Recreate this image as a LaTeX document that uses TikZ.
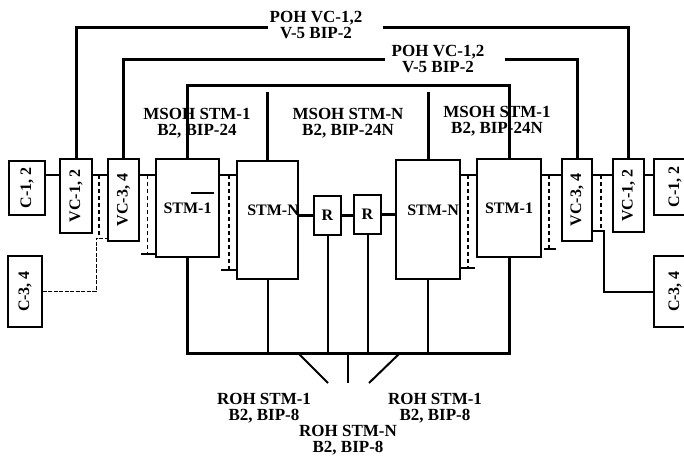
\documentclass[tikz,border=0pt]{standalone}
\usepackage{fontspec}
\setmainfont{Liberation Serif}
\usepackage{graphicx}
\usetikzlibrary{calc}
\begin{document}
\begin{tikzpicture}[x=1pt,y=-1pt,
  txt/.style={font=\fontsize{17}{16.5}\selectfont\bfseries, align=center, inner sep=0pt},
  boxtxt/.style={font=\fontsize{16}{16.5}\selectfont\bfseries, inner sep=0pt},
  box/.style={draw, line width=1.4pt, inner sep=0pt, font=\fontsize{16}{16.5}\selectfont\bfseries},
  thickline/.style={line width=3pt},
  link/.style={line width=2.5pt},
  riser/.style={line width=2pt},
  foot/.style={line width=1.2pt},
  dashv/.style={line width=1.5pt, dash pattern=on 4pt off 3pt},
  thinconn/.style={line width=0.9pt, dash pattern=on 4pt off 1.5pt}]
\clip (0,0) rectangle (684,457);
% boxes
\node[box,minimum width=36pt,minimum height=54pt] (c12L) at (27,188) {\rotatebox{90}{C-1, 2}};
\node[box,minimum width=32pt,minimum height=74pt] (vc12L) at (76,196) {\rotatebox{90}{VC-1, 2}};
\node[box,minimum width=31pt,minimum height=82pt] (vc34L) at (123.5,200) {\rotatebox{90}{VC-3, 4}};
\node[box,minimum width=63pt,minimum height=98pt] (stm1L) at (187.5,208) {STM-1};
\node[box,minimum width=61pt,minimum height=118pt] (stmNL) at (267.5,220) {};
\node[boxtxt,anchor=east] (tNL) at (299,210) {STM-N};
\node[box,minimum width=27pt,minimum height=39pt] (r1) at (327.5,215.5) {R};
\node[box,minimum width=27pt,minimum height=39pt] (r2) at (367.5,214.5) {R};
\node[box,minimum width=64pt,minimum height=119pt] (stmNR) at (428,219.5) {};
\node[boxtxt,anchor=east] (tNR) at (459,210) {STM-N};
\node[box,minimum width=64pt,minimum height=98pt] (stm1R) at (509,208) {STM-1};
\node[box,minimum width=30pt,minimum height=82pt] (vc34R) at (577,200) {\rotatebox{90}{VC-3, 4}};
\node[box,minimum width=31pt,minimum height=73pt] (vc12R) at (628.5,195.5) {\rotatebox{90}{VC-1, 2}};
\node[box,minimum width=42pt,minimum height=56pt] (c12R) at (675,187) {\rotatebox{90}{C-1, 2}};
\node[box,minimum width=34pt,minimum height=71pt] (c34L) at (25,291.5) {\rotatebox{90}{C-3, 4}};
\node[box,minimum width=42pt,minimum height=71pt] (c34R) at (675,291.5) {\rotatebox{90}{C-3, 4}};
% labels
\node[txt] (poh1) at (316,25) {POH VC-1,2\\V-5 BIP-2};
\node[txt] (poh2) at (438,59) {POH VC-1,2\\V-5 BIP-2};
\node[txt] (ms1) at (197,123) {MSOH STM-1\\B2, BIP-24};
\node[txt] (msN) at (348,123) {MSOH STM-N\\B2, BIP-24N};
\node[txt] (ms2) at (497,121) {MSOH STM-1\\B2, BIP-24N};
\node[txt] (roh1) at (264,408) {ROH STM-1\\B2, BIP-8};
\node[txt] (roh2) at (435,408) {ROH STM-1\\B2, BIP-8};
\node[txt] (rohN) at (348,440) {ROH STM-N\\B2, BIP-8};
% overline mark
\draw[line width=1.5pt] ($(stm1L.center)+(3.5,-15)$) -- ++(23,0);
% helper coordinates
\coordinate (row) at (0,175);
\coordinate (yM) at (0,86);
\coordinate (yM2) at (0,92);
\coordinate (yBus) at (0,353);
\coordinate (yC) at (0,238);
\coordinate (yR) at (0,231);
\coordinate (pA1) at (268,28);
\coordinate (pA2) at (383,28);
\coordinate (pB1) at (385,60);
\coordinate (pB2) at (505,60);
% row links
\draw[link] (c12L.east |- row) -- (vc12L.west |- row);
\draw[link] (vc12L.east |- row) -- (vc34L.west |- row);
\draw[link] (vc34L.east |- row) -- (stm1L.west |- row);
\draw[link] (stm1L.east |- row) -- (stmNL.west |- row);
\draw[link] (stmNR.east |- row) -- (stm1R.west |- row);
\draw[link] (stm1R.east |- row) -- (vc34R.west |- row);
\draw[link] (vc34R.east |- row) -- (vc12R.west |- row);
\draw[link] (vc12R.east |- row) -- (c12R.west |- row);
% R chain
\draw[link] (stmNL.east |- r1.west) -- (r1.west);
\draw[link] (r1.east) -- (r2.west |- r1.east);
\draw[link] (r2.east) -- (stmNR.west |- r2.east);
% dashed verticals
\draw[dashv] (99,175) -- (99,238);
\draw[thinconn] (c34L.east) -| (96,238) -- (vc34L.west |- yC);
\draw[dashv] (147.5,175) -- (147.5,254);
\draw[foot] (141,254) -- (156,254);
\draw[dashv] (229,175) -- (229,270);
\draw[foot] (221,270) -- (237,270);
\draw[dashv] (468,175) -- (468,268);
\draw[foot] (460,268) -- (475,268);
\draw[dashv] (549,175) -- (549,249);
\draw[foot] (544,249) -- (556,249);
\draw[dashv] (601,175) -- (601,231);
\draw[riser] (vc34R.east |- yR) -- (604,231) |- (c34R.west);
% top lines
\draw[thickline] (vc12L.north) |- (pA1);
\draw[thickline] (pA2) -| (vc12R.north);
\draw[thickline] (vc34L.north) |- (pB1);
\draw[thickline] (pB2) -| (vc34R.north);
\draw[thickline] (stm1L.north) |- (stm1R.north |- yM) -- (stm1R.north);
\draw[thickline] (stmNL.north) -- (stmNL.north |- yM2);
\draw[thickline] (stmNR.north) -- (stmNR.north |- yM2);
% bottom bus
\draw[thickline] (stm1L.south) |- (stm1R.south |- yBus) -- (stm1R.south);
\draw[riser] (stmNL.south) -- (stmNL.south |- yBus);
\draw[riser] (r1.south) -- (r1.south |- yBus);
\draw[riser] (r2.south) -- (r2.south |- yBus);
\draw[riser] (stmNR.south) -- (stmNR.south |- yBus);
\draw[riser] (298,353) -- (328,383);
\draw[riser] (348,353) -- (348,383);
\draw[riser] (400,353) -- (369,383);
\end{tikzpicture}
\end{document}
